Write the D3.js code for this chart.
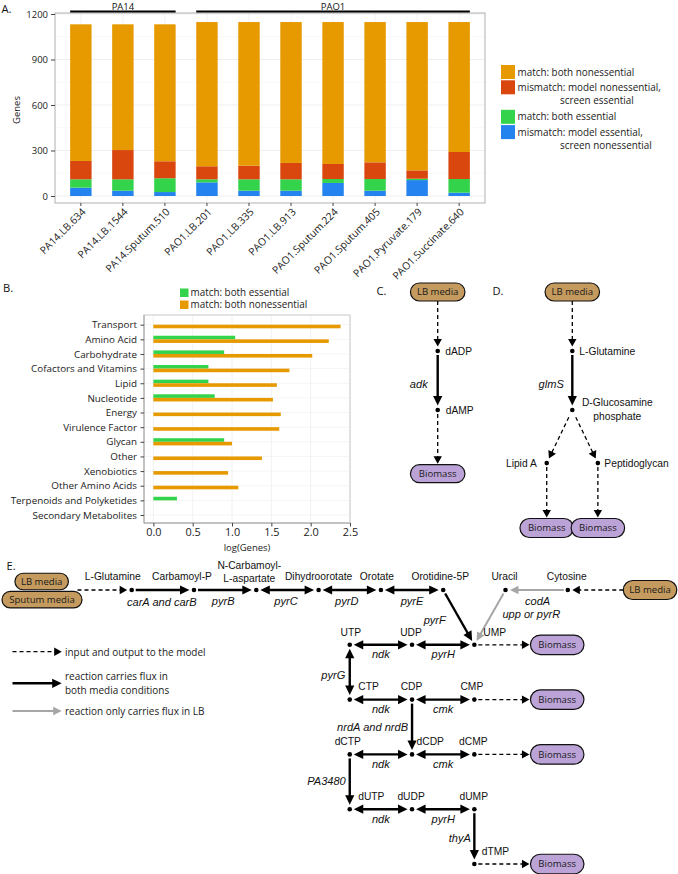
<!DOCTYPE html>
<html><head><meta charset="utf-8">
<script src="https://cdn.jsdelivr.net/npm/d3@7"></script>
<style>
body{margin:0;background:#fff;}
svg{display:block;}
</style></head><body>
<svg id="fig" width="678" height="874"></svg>
<script>
// ================= Panel A data =================
const samples = ["PA14.LB.634","PA14.LB.1544","PA14.Sputum.510","PAO1.LB.201","PAO1.LB.335","PAO1.LB.913","PAO1.Sputum.224","PAO1.Sputum.405","PAO1.Pyruvate.179","PAO1.Succinate.640"];
const strainOfSample = ["PA14","PA14","PA14","PAO1","PAO1","PAO1","PAO1","PAO1","PAO1","PAO1"];
const strains = ["PA14","PAO1"];
const mismatchModelEssential    = [55, 35, 26, 90, 35, 35, 86, 35, 105, 22];   // blue
const matchBothEssential        = [55, 75, 91, 20, 75, 75, 26, 77, 9, 90];     // green
const mismatchModelNonessential = [121,193,112, 86, 90,108, 99,110, 55,178];   // red
const matchBothNonessential     = [901,829,903,951,947,929,936,925,978,857];   // orange
const yTicksA = [0, 300, 600, 900, 1200];
const legendA = [
  {key:"orange", lines:["match: both nonessential"]},
  {key:"red",    lines:["mismatch: model nonessential,","screen essential"]},
  {key:"green",  lines:["match: both essential"]},
  {key:"blue",   lines:["mismatch: model essential,","screen nonessential"]}
];

// ================= Panel B data =================
const subsystems = ["Transport","Amino Acid","Carbohydrate","Cofactors and Vitamins","Lipid","Nucleotide","Energy","Virulence Factor","Glycan","Other","Xenobiotics","Other Amino Acids","Terpenoids and Polyketides","Secondary Metabolites"];
const logBothEssential    = [null, 1.04, 0.90, 0.70, 0.70, 0.78, null, null, 0.90, null, null, null, 0.30, null];
const logBothNonessential = [2.38, 2.23, 2.02, 1.73, 1.57, 1.52, 1.62, 1.60, 1.00, 1.38, 0.95, 1.08, null, 0];
const xTicksB = [0, 0.5, 1.0, 1.5, 2.0, 2.5];
const legendB = [{key:"green", text:"match: both essential"},{key:"orange", text:"match: both nonessential"}];

// ================= Panels C / D data (grid units) =================
const cdNodes = [
  {id:"C_media", type:"media", text:"LB media", col:0, row:0},
  {id:"C_dADP", type:"met", lines:["dADP"], col:0, row:1, anchor:"start", dx:7.5, dy:3.6},
  {id:"C_dAMP", type:"met", lines:["dAMP"], col:0, row:2, anchor:"start", dx:8, dy:3.6},
  {id:"C_bio", type:"bio", text:"Biomass", col:0, row:3.08},
  {id:"D_media", type:"media", text:"LB media", col:1, row:0},
  {id:"D_glu", type:"met", lines:["L-Glutamine"], col:1, row:1, anchor:"start", dx:7, dy:3.6},
  {id:"D_glc", type:"met", lines:["D-Glucosamine","phosphate"], col:1, row:2, anchor:"middle", dx:45, dy:-3.8},
  {id:"D_lipA", type:"met", lines:["Lipid A"], col:0.81, row:2.9, anchor:"end", dx:-10, dy:3.6},
  {id:"D_pep", type:"met", lines:["Peptidoglycan"], col:1.19, row:2.9, anchor:"start", dx:6.5, dy:3.6},
  {id:"D_bioL", type:"bio", text:"Biomass", col:0.81, row:4.0},
  {id:"D_bioR", type:"bio", text:"Biomass", col:1.19, row:4.0}
];
const cdEdges = [
  {f:"C_media", t:"C_dADP", k:"dash", h:"end"},
  {f:"C_dADP", t:"C_dAMP", k:"solid", h:"end", gene:"adk", gAnchor:"end", gdx:-10, gdy:4},
  {f:"C_dAMP", t:"C_bio", k:"dash", h:"end"},
  {f:"D_media", t:"D_glu", k:"dash", h:"end"},
  {f:"D_glu", t:"D_glc", k:"solid", h:"end", gene:"glmS", gAnchor:"end", gdx:-8.5, gdy:4},
  {f:"D_glc", t:"D_lipA", k:"dash", h:"end", g1:8, g2:5},
  {f:"D_glc", t:"D_pep", k:"dash", h:"end", g1:8, g2:5},
  {f:"D_lipA", t:"D_bioL", k:"dash", h:"end"},
  {f:"D_pep", t:"D_bioR", k:"dash", h:"end"}
];

// ================= Panel E data (grid units) =================
const eNodes = [
  {id:"mLB", type:"media", text:"LB media", col:-1.445, row:-0.155, w:53.5, h:16.5},
  {id:"mSput", type:"media", text:"Sputum media", col:-1.44, row:0.177, w:80, h:16.5},
  {id:"port", type:"port", col:-0.87, row:0},
  {id:"Lglu", type:"met", lines:["L-Glutamine"], col:0, row:0, anchor:"middle", dx:-19, dy:-9.8},
  {id:"CarbP", type:"met", lines:["Carbamoyl-P"], col:1, row:0, anchor:"middle", dx:-12, dy:-9.8},
  {id:"NCarb", type:"met", lines:["N-Carbamoyl-","L-aspartate"], col:2, row:0, anchor:"middle", dx:-7, dy:-21.5},
  {id:"Dihy", type:"met", lines:["Dihydroorotate"], col:3, row:0, anchor:"middle", dx:0, dy:-9.8},
  {id:"Orot", type:"met", lines:["Orotate"], col:4, row:0, anchor:"middle", dx:-4, dy:-9.8},
  {id:"O5P", type:"met", lines:["Orotidine-5P"], col:5, row:0, anchor:"middle", dx:-3, dy:-9.8},
  {id:"Ura", type:"met", lines:["Uracil"], col:6, row:0, anchor:"middle", dx:-1, dy:-9.8},
  {id:"Cyt", type:"met", lines:["Cytosine"], col:7, row:0, anchor:"middle", dx:-1, dy:-9.8},
  {id:"mLB2", type:"media", text:"LB media", col:8.32, row:0, w:53.5, h:19},
  {id:"UTP", type:"met", lines:["UTP"], col:3.5, row:1, anchor:"middle", dx:1, dy:-9.2},
  {id:"UDP", type:"met", lines:["UDP"], col:4.5, row:1, anchor:"middle", dx:-1, dy:-9.2},
  {id:"UMP", type:"met", lines:["UMP"], col:5.5, row:1, anchor:"start", dx:9, dy:-9.2},
  {id:"bio1", type:"bio", text:"Biomass", col:6.83, row:1},
  {id:"CTP", type:"met", lines:["CTP"], col:3.5, row:2, anchor:"start", dx:8.5, dy:-9.4},
  {id:"CDP", type:"met", lines:["CDP"], col:4.5, row:2, anchor:"middle", dx:-0.5, dy:-9.4},
  {id:"CMP", type:"met", lines:["CMP"], col:5.5, row:2, anchor:"middle", dx:-2.5, dy:-9.4},
  {id:"bio2", type:"bio", text:"Biomass", col:6.83, row:2},
  {id:"dCTP", type:"met", lines:["dCTP"], col:3.5, row:3, anchor:"middle", dx:-2, dy:-9.4},
  {id:"dCDP", type:"met", lines:["dCDP"], col:4.5, row:3, anchor:"start", dx:4.5, dy:-9.4},
  {id:"dCMP", type:"met", lines:["dCMP"], col:5.5, row:3, anchor:"middle", dx:-1, dy:-9.4},
  {id:"bio3", type:"bio", text:"Biomass", col:6.83, row:3},
  {id:"dUTP", type:"met", lines:["dUTP"], col:3.5, row:4, anchor:"start", dx:8.5, dy:-9.4},
  {id:"dUDP", type:"met", lines:["dUDP"], col:4.5, row:4, anchor:"middle", dx:-1, dy:-9.4},
  {id:"dUMP", type:"met", lines:["dUMP"], col:5.5, row:4, anchor:"middle", dx:-0.6, dy:-9.4},
  {id:"dTMP", type:"met", lines:["dTMP"], col:5.5, row:5, anchor:"start", dx:7.5, dy:-9.4},
  {id:"bio5", type:"bio", text:"Biomass", col:6.83, row:5}
];
const eEdges = [
  {f:"port", t:"Lglu", k:"dash", h:"end"},
  {f:"Lglu", t:"CarbP", k:"solid", h:"end", gene:"carA and carB", gAnchor:"middle", gdx:-1, gdy:12},
  {f:"CarbP", t:"NCarb", k:"solid", h:"end", gene:"pyrB", gAnchor:"middle", gdx:-2, gdy:11},
  {f:"NCarb", t:"Dihy", k:"solid", h:"both", gene:"pyrC", gAnchor:"middle", gdx:-1.5, gdy:11},
  {f:"Dihy", t:"Orot", k:"solid", h:"both", gene:"pyrD", gAnchor:"middle", gdx:-3, gdy:11},
  {f:"Orot", t:"O5P", k:"solid", h:"both", gene:"pyrE", gAnchor:"middle", gdx:0, gdy:11},
  {f:"O5P", t:"UMP", k:"solid", h:"end", gene:"pyrF", gAnchor:"end", gdx:-13, gdy:3},
  {f:"mLB2", t:"Cyt", k:"dash", h:"end"},
  {f:"Cyt", t:"Ura", k:"gray", h:"end", gene:"codA", gAnchor:"middle", gdx:1, gdy:11},
  {f:"Ura", t:"UMP", k:"gray", h:"end", gene:"upp or pyrR", gAnchor:"start", gdx:12.5, gdy:-3},
  {f:"UTP", t:"UDP", k:"solid", h:"both", gene:"ndk", gAnchor:"middle", gdx:0, gdy:10},
  {f:"UDP", t:"UMP", k:"solid", h:"both", gene:"pyrH", gAnchor:"middle", gdx:0, gdy:10},
  {f:"UMP", t:"bio1", k:"dash", h:"end"},
  {f:"UTP", t:"CTP", k:"solid", h:"both", gene:"pyrG", gAnchor:"end", gdx:-4.5, gdy:3},
  {f:"CTP", t:"CDP", k:"solid", h:"both", gene:"ndk", gAnchor:"middle", gdx:0, gdy:10},
  {f:"CDP", t:"CMP", k:"solid", h:"both", gene:"cmk", gAnchor:"middle", gdx:0, gdy:10},
  {f:"CMP", t:"bio2", k:"dash", h:"end"},
  {f:"CDP", t:"dCDP", k:"solid", h:"end", gene:"nrdA and nrdB", gAnchor:"end", gdx:-4, gdy:0.5},
  {f:"dCTP", t:"dCDP", k:"solid", h:"both", gene:"ndk", gAnchor:"middle", gdx:0, gdy:10},
  {f:"dCDP", t:"dCMP", k:"solid", h:"both", gene:"cmk", gAnchor:"middle", gdx:0, gdy:10},
  {f:"dCMP", t:"bio3", k:"dash", h:"end"},
  {f:"dCTP", t:"dUTP", k:"solid", h:"end", gene:"PA3480", gAnchor:"end", gdx:-4, gdy:0},
  {f:"dUTP", t:"dUDP", k:"solid", h:"both", gene:"ndk", gAnchor:"middle", gdx:0, gdy:10},
  {f:"dUDP", t:"dUMP", k:"solid", h:"both", gene:"pyrH", gAnchor:"middle", gdx:0, gdy:10},
  {f:"dUMP", t:"dTMP", k:"solid", h:"end", gene:"thyA", gAnchor:"end", gdx:-3.5, gdy:2},
  {f:"dTMP", t:"bio5", k:"dash", h:"end"}
];
const legendE = [
  {k:"dash", lines:["input and output to the model"]},
  {k:"solid", lines:["reaction carries flux in","both media conditions"]},
  {k:"gray", lines:["reaction only carries flux in LB"]}
];

// ================= styles =================
const MY = "'Open Sans', Lato, sans-serif";
const AR = "'Liberation Sans', Arial, sans-serif";
const COL = {orange:"#E69A00", red:"#D9470F", green:"#33D44C", blue:"#2483EE"};
const TAN = "#C49A5E", PURPLE = "#BCA3D7";
const EDGE = {
  solid:{stroke:"#000", width:2.4, dash:null, hl:9.5, hw:4.6},
  dash:{stroke:"#000", width:1.3, dash:"4,3", hl:7.5, hw:4.2},
  gray:{stroke:"#a6a6a6", width:2, dash:null, hl:8.5, hw:4.2}
};

const svg = d3.select("#fig");

// font sizes calibrated so that reference strings get the widths seen in the original
const meas = svg.append("text").attr("visibility","hidden");
function fit(text, family, target, style){
  meas.attr("font-family",family).attr("font-style",style||"normal").attr("font-size",20).text(text);
  const w = meas.node().getComputedTextLength();
  return w>0 ? 20*target/w : 10;
}
const FS_TICKA = fit("1200", MY, 21.7);
const FS_XLAB  = fit("PAO1.Succinate.640", MY, 96);
const FS_LEG   = fit("match: both nonessential", MY, 117);
const FS_CAT   = fit("Cofactors and Vitamins", MY, 106);
const FS_TICKB = fit("0.0", MY, 15.3);
const FS_TITLE = fit("log(Genes)", MY, 46.7);
const FS_LEGE  = fit("input and output to the model", MY, 140.7);
const FS_PILL  = fit("Biomass", MY, 37.7);
const FA = (fit("D-Glucosamine", AR, 71) + fit("Orotidine-5P", AR, 57.3)) / 2;
const FG = fit("nrdA and nrdB", AR, 71, "italic");
const FS_PANEL = fit("A.", MY, 10);
meas.remove();

function panelLabel(t, x, y){
  svg.append("text").attr("x",x).attr("y",y).text(t)
    .attr("font-family",MY).attr("font-size",FS_PANEL).attr("fill","#111");
}

// ================= Panel A =================
(function(){
  const g = svg.append("g");
  const L=55, R=485, T=13, B=203;
  const x = d3.scaleBand().domain(samples).range([L,R]).paddingInner(0.49).paddingOuter(0.36);
  const y = d3.scaleLinear().domain([0,1200]).range([196,14]);

  g.selectAll("line.gmin").data(d3.range(150,1200,300)).join("line")
    .attr("x1",L).attr("x2",R).attr("y1",d=>y(d)).attr("y2",d=>y(d))
    .attr("stroke","#f4f4f4").attr("stroke-width",0.6);
  g.selectAll("line.gmaj").data(yTicksA).join("line")
    .attr("x1",L).attr("x2",R).attr("y1",d=>y(d)).attr("y2",d=>y(d))
    .attr("stroke","#ebebeb").attr("stroke-width",0.8);
  g.selectAll("line.gv").data(samples).join("line")
    .attr("x1",d=>x(d)+x.bandwidth()/2).attr("x2",d=>x(d)+x.bandwidth()/2)
    .attr("y1",T).attr("y2",B).attr("stroke","#efefef").attr("stroke-width",0.8);

  const rows = samples.map((s,i)=>({sample:s, blue:mismatchModelEssential[i], green:matchBothEssential[i],
     red:mismatchModelNonessential[i], orange:matchBothNonessential[i]}));
  const stack = d3.stack().keys(["blue","green","red","orange"])(rows);
  g.selectAll("g.ser").data(stack).join("g").attr("fill",d=>COL[d.key])
    .selectAll("rect").data(d=>d).join("rect")
    .attr("x",d=>x(d.data.sample)).attr("width",x.bandwidth())
    .attr("y",d=>y(d[1])).attr("height",d=>y(d[0])-y(d[1]));

  g.append("rect").attr("x",L).attr("y",T).attr("width",R-L).attr("height",B-T)
    .attr("fill","none").attr("stroke","#b0b0b0").attr("stroke-width",1);

  const ay = g.append("g").attr("transform",`translate(${L},0)`)
    .call(d3.axisLeft(y).tickValues(yTicksA).tickFormat(d3.format("d")).tickSize(4).tickPadding(3));
  ay.select(".domain").remove();
  ay.selectAll("line").attr("stroke","#444");
  ay.selectAll("text").attr("font-family",MY).attr("font-size",FS_TICKA).attr("fill","#222");

  const ax = g.append("g").attr("transform",`translate(0,${B})`)
    .call(d3.axisBottom(x).tickSize(3).tickPadding(0));
  ax.select(".domain").remove();
  ax.selectAll("line").attr("stroke","#444");
  ax.selectAll("text").attr("font-family",MY).attr("font-size",FS_XLAB).attr("fill","#222")
    .attr("text-anchor","end").attr("y",null)
    .attr("transform","translate(3,7) rotate(-45)").attr("dy","0.35em");

  g.append("text").attr("transform","translate(20,110) rotate(-90)").attr("text-anchor","middle")
    .attr("font-family",MY).attr("font-size",FS_TICKA).attr("fill","#222").text("Genes");

  strains.forEach(s=>{
    const idx = samples.map((d,i)=>i).filter(i=>strainOfSample[i]===s);
    const x0 = x(samples[idx[0]]), x1 = x(samples[idx[idx.length-1]])+x.bandwidth();
    g.append("line").attr("x1",x0).attr("x2",x1).attr("y1",11.5).attr("y2",11.5)
      .attr("stroke","#000").attr("stroke-width",1.8);
    g.append("text").attr("x",(x0+x1)/2).attr("y",9.5).attr("text-anchor","middle")
      .attr("font-family",MY).attr("font-size",FS_TICKA).attr("fill","#111").text(s);
  });

  let ly = 65;
  legendA.forEach(e=>{
    g.append("rect").attr("x",501).attr("y",ly).attr("width",14).attr("height",14).attr("fill",COL[e.key]);
    e.lines.forEach((t,j)=>{
      g.append("text").attr("x", j===0?517.5:560).attr("y", ly+10.5+j*13.3)
        .attr("font-family",MY).attr("font-size",FS_LEG).attr("fill","#222").text(t);
    });
    ly += 15.3 + (e.lines.length-1)*14.2;
  });
  panelLabel("A.", 1.5, 13);
})();

// ================= Panel B =================
(function(){
  const g = svg.append("g");
  const L=144, R=350, T=315, B=523;
  const x = d3.scaleLinear().domain([-0.119, 2.5]).range([L,R]);
  const y = d3.scalePoint().domain(subsystems).range([324.7, 515]);

  g.selectAll("line.gv").data(xTicksB).join("line")
    .attr("x1",d=>x(d)).attr("x2",d=>x(d)).attr("y1",T).attr("y2",B)
    .attr("stroke","#efefef").attr("stroke-width",0.8);
  g.selectAll("line.gh").data(subsystems).join("line")
    .attr("x1",L).attr("x2",R).attr("y1",d=>y(d)).attr("y2",d=>y(d))
    .attr("stroke","#f3f3f3").attr("stroke-width",0.8);

  const bh = 3.6;
  const ess = subsystems.map((s,i)=>({s, v:logBothEssential[i]})).filter(d=>d.v!==null);
  const non = subsystems.map((s,i)=>({s, v:logBothNonessential[i]})).filter(d=>d.v!==null);
  g.selectAll("rect.ess").data(ess).join("rect")
    .attr("x",x(0)).attr("width",d=>x(d.v)-x(0)).attr("y",d=>y(d.s)-bh).attr("height",bh)
    .attr("fill",COL.green);
  g.selectAll("rect.non").data(non).join("rect")
    .attr("x",x(0)).attr("width",d=>x(d.v)-x(0)).attr("y",d=>y(d.s)).attr("height",bh)
    .attr("fill",COL.orange);

  g.append("rect").attr("x",L).attr("y",T).attr("width",R-L).attr("height",B-T)
    .attr("fill","none").attr("stroke","#c4c4c4").attr("stroke-width",0.9);
  g.append("path").attr("d",`M${L},${T}V${B}H${R}`).attr("fill","none").attr("stroke","#9a9a9a").attr("stroke-width",0.9);

  const ay = g.append("g").attr("transform",`translate(${L},0)`)
    .call(d3.axisLeft(y).tickSize(3.5).tickPadding(3.5));
  ay.select(".domain").remove();
  ay.selectAll("line").attr("stroke","#444");
  ay.selectAll("text").attr("font-family",MY).attr("font-size",FS_CAT).attr("fill","#222");

  const ax = g.append("g").attr("transform",`translate(0,${B})`)
    .call(d3.axisBottom(x).tickValues(xTicksB).tickFormat(d3.format(".1f")).tickSize(3.5).tickPadding(2));
  ax.select(".domain").remove();
  ax.selectAll("line").attr("stroke","#444");
  ax.selectAll("text").attr("font-family",MY).attr("font-size",FS_TICKB).attr("fill","#222");

  g.append("text").attr("x",(L+R)/2).attr("y",550.5).attr("text-anchor","middle")
    .attr("font-family",MY).attr("font-size",FS_TITLE).attr("fill","#222").text("log(Genes)");

  legendB.forEach((e,i)=>{
    g.append("rect").attr("x",180).attr("y",288.5+i*12).attr("width",8.5).attr("height",8.5).attr("fill",COL[e.key]);
    g.append("text").attr("x",190.5).attr("y",296+i*12.3).attr("font-family",MY).attr("font-size",FS_LEG)
      .attr("fill","#222").text(e.text);
  });
  panelLabel("B.", 3, 292);
})();

// ================= diagram helpers =================
function pill(g, cx, cy, w, h, text, fill){
  g.append("rect").attr("x",cx-w/2).attr("y",cy-h/2).attr("width",w).attr("height",h)
    .attr("rx",h/2).attr("ry",h/2).attr("fill",fill).attr("stroke","#111").attr("stroke-width",1.2);
  g.append("text").attr("x",cx).attr("y",cy).attr("dy","0.36em").attr("text-anchor","middle")
    .attr("font-family",MY).attr("font-size",FS_PILL).attr("fill","#1a1a1a").text(text);
}
function tri(g, tx, ty, ux, uy, hl, hw, color){
  const bx=tx-ux*hl, by=ty-uy*hl, px=-uy, py=ux;
  g.append("path").attr("d",`M${tx},${ty}L${bx+px*hw},${by+py*hw}L${bx-px*hw},${by-py*hw}Z`).attr("fill",color);
}
function boxGap(n, ux, uy){
  const a = Math.abs(ux)>1e-6 ? (n.w/2)/Math.abs(ux) : Infinity;
  const b = Math.abs(uy)>1e-6 ? (n.h/2)/Math.abs(uy) : Infinity;
  return Math.min(a,b);
}
function drawEdges(g, nodes, edges){
  const byId = new Map(nodes.map(n=>[n.id,n]));
  edges.forEach(e=>{
    const a = byId.get(e.f), b = byId.get(e.t), st = EDGE[e.k];
    const dx=b.px-a.px, dy=b.py-a.py, Lh=Math.hypot(dx,dy), ux=dx/Lh, uy=dy/Lh;
    const gapOf = (n, isEnd)=> n.type==="met" ? (isEnd?4.5:4) : n.type==="port" ? 0 : boxGap(n,ux,uy)+(isEnd?1:0);
    const g1 = e.g1 ?? gapOf(a,false), g2 = e.g2 ?? gapOf(b,true);
    const sx=a.px+ux*g1, sy=a.py+uy*g1, ex=b.px-ux*g2, ey=b.py-uy*g2;
    const both = e.h==="both";
    const lx1 = both ? sx+ux*(st.hl-1) : sx, ly1 = both ? sy+uy*(st.hl-1) : sy;
    const lx2 = ex-ux*(st.hl-1), ly2 = ey-uy*(st.hl-1);
    const ln = g.append("line").attr("x1",lx1).attr("y1",ly1).attr("x2",lx2).attr("y2",ly2)
      .attr("stroke",st.stroke).attr("stroke-width",st.width);
    if(st.dash) ln.attr("stroke-dasharray",st.dash);
    tri(g, ex, ey, ux, uy, st.hl, st.hw, st.stroke);
    if(both) tri(g, sx, sy, -ux, -uy, st.hl, st.hw, st.stroke);
    if(e.gene){
      g.append("text").attr("x",(a.px+b.px)/2+e.gdx).attr("y",(a.py+b.py)/2+e.gdy+3.6)
        .attr("text-anchor",e.gAnchor).attr("font-family",AR).attr("font-style","italic")
        .attr("font-size",FG).attr("fill","#111").text(e.gene);
    }
  });
}
function drawNodes(g, nodes){
  nodes.forEach(n=>{
    if(n.type==="met"){
      g.append("circle").attr("cx",n.px).attr("cy",n.py).attr("r",2.3).attr("fill","#000");
      n.lines.forEach((t,j)=>{
        g.append("text").attr("x",n.px+n.dx).attr("y",n.py+n.dy+j*13.8).attr("text-anchor",n.anchor)
          .attr("font-family",AR).attr("font-size",FA).attr("fill","#111").text(t);
      });
    } else if(n.type==="media"){
      pill(g, n.px, n.py, n.w, n.h, n.text, TAN);
    } else if(n.type==="bio"){
      pill(g, n.px, n.py, n.w, n.h, n.text, PURPLE);
    }
  });
}

// ================= Panels C & D =================
(function(){
  const g = svg.append("g");
  const cx = d3.scaleLinear().domain([0,1]).range([437.7, 572.3]);
  const ry = d3.scaleLinear().domain([0,1]).range([292, 351]);
  cdNodes.forEach(n=>{ n.px=cx(n.col); n.py=ry(n.row); if(n.type!=="met"){ const dd = n.type==="bio" && n.id.startsWith("D"); n.w = dd?53.5:54.5; n.h = dd?19:18; } });
  drawEdges(g, cdNodes, cdEdges);
  drawNodes(g, cdNodes);
  panelLabel("C.", 376.5, 294.5);
  panelLabel("D.", 492.5, 294.5);
})();

// ================= Panel E =================
(function(){
  const g = svg.append("g");
  const cx = d3.scaleLinear().domain([0,1]).range([131.7, 194]);
  const ry = d3.scaleLinear().domain([0,1]).range([590, 644.8]);
  eNodes.forEach(n=>{ n.px=cx(n.col); n.py=ry(n.row); if(n.type==="bio"){ n.w=53.5; n.h=19.5; } });
  drawEdges(g, eNodes, eEdges);
  drawNodes(g, eNodes);
  panelLabel("E.", 6.5, 569.5);

  const lyPos = [651.7, 683.3, 711];
  legendE.forEach((e,i)=>{
    const st = EDGE[e.k], yy = lyPos[i];
    const x0 = 12.5, tip = 61.7;
    const ln = g.append("line").attr("x1",x0).attr("x2",tip-st.hl+1).attr("y1",yy).attr("y2",yy)
      .attr("stroke",st.stroke).attr("stroke-width",st.width);
    if(st.dash) ln.attr("stroke-dasharray",st.dash);
    tri(g, tip, yy, 1, 0, st.hl, st.hw, st.stroke);
    const n = e.lines.length;
    e.lines.forEach((t,j)=>{
      g.append("text").attr("x",65).attr("y",yy+3.8+(j-(n-1)/2)*14)
        .attr("font-family",MY).attr("font-size",FS_LEGE).attr("fill","#1a1a1a").text(t);
    });
  });
})();
</script>
</body></html>
